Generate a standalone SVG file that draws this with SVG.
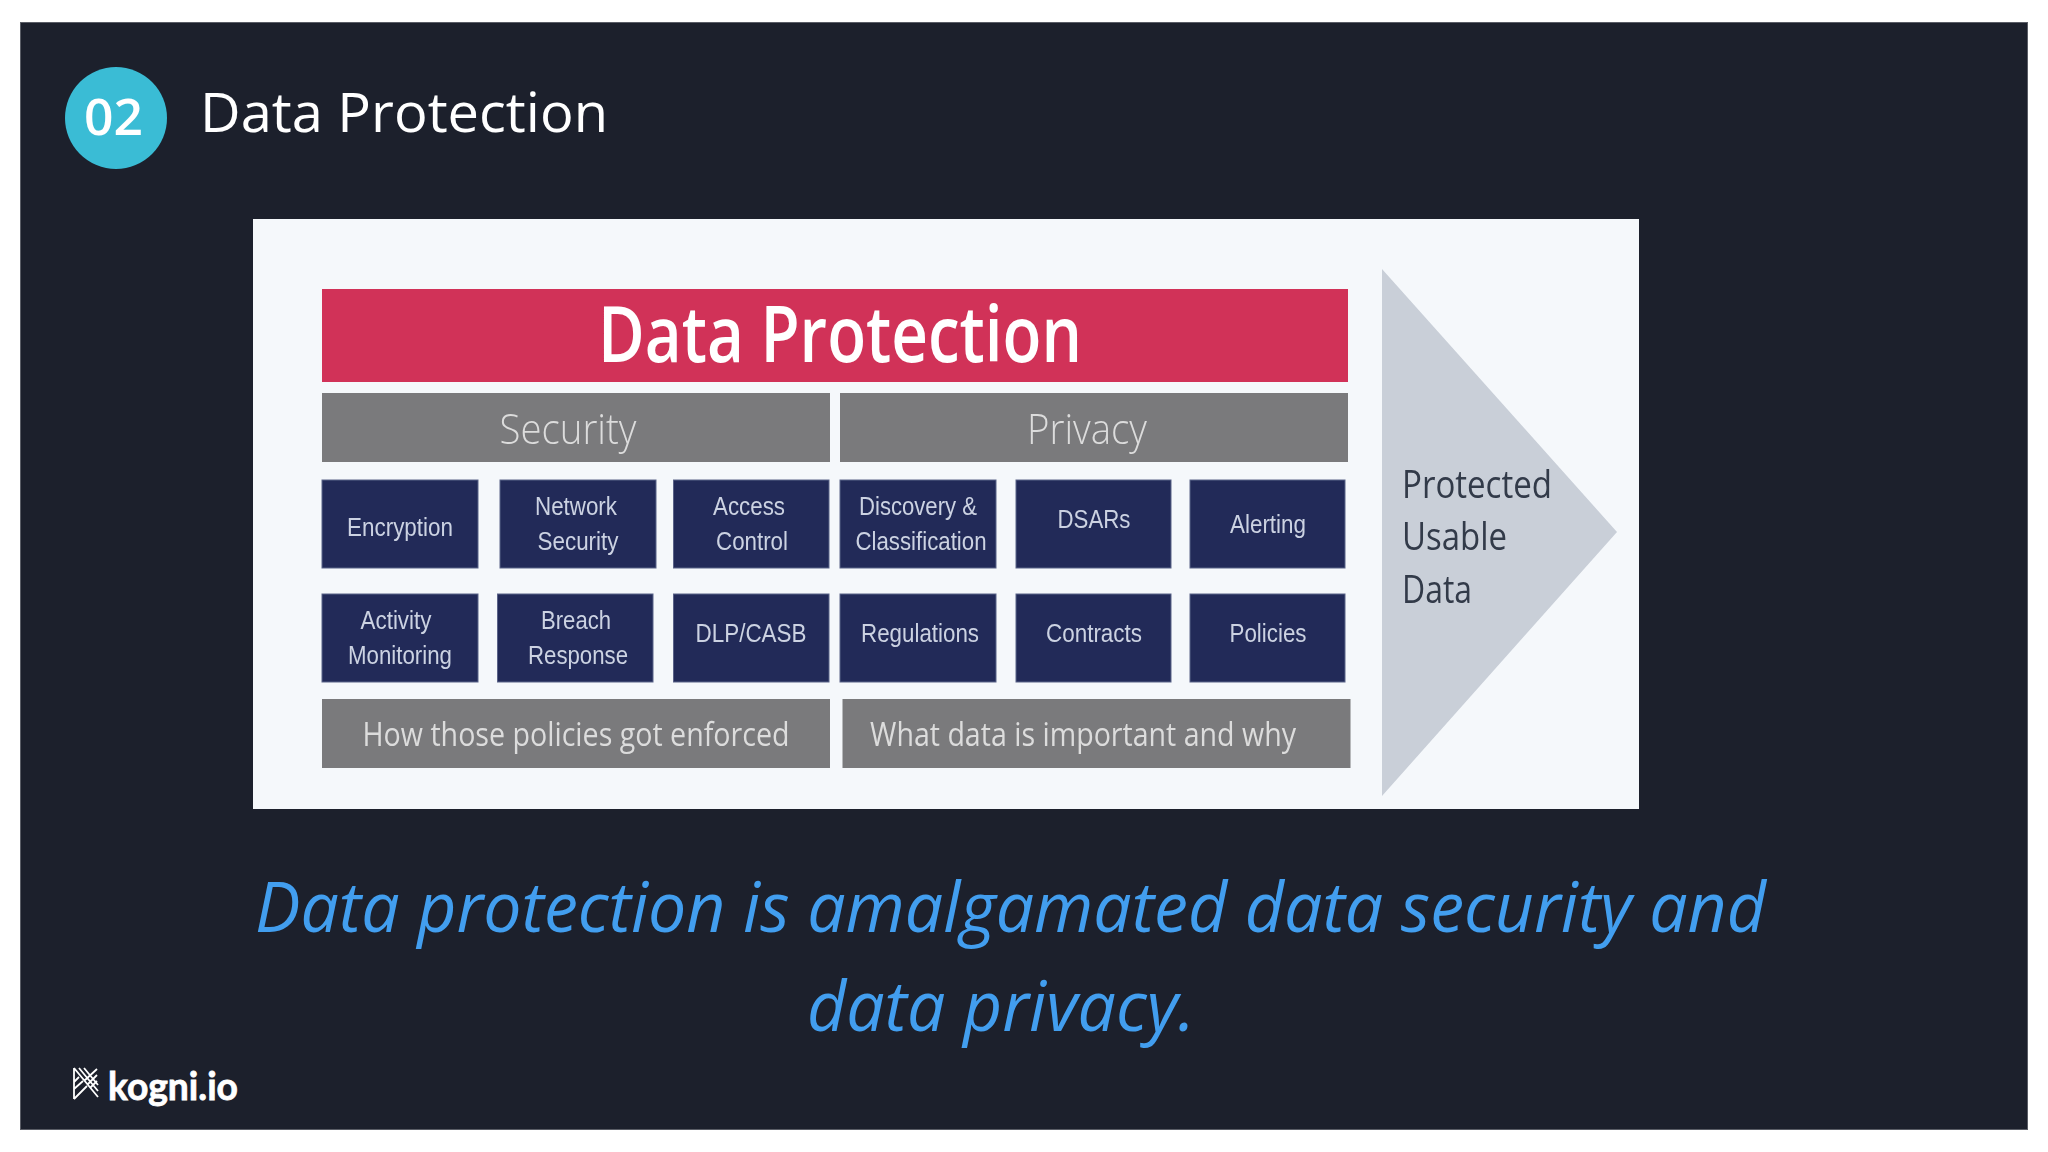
<svg xmlns="http://www.w3.org/2000/svg" width="2048" height="1152" viewBox="0 0 2048 1152">
<defs>
<filter id="soft" x="-2%" y="-2%" width="104%" height="104%"><feGaussianBlur stdDeviation="0.7"/></filter>
</defs>
<style>
.os{font-family:"Open Sans","Noto Sans",sans-serif}
.box{fill:#222c59;stroke:#5a6288;stroke-width:1}
.gray{fill:#7a7a7c}
.bt{font-family:"Liberation Sans",Arial,sans-serif;font-size:25px;fill:#ccd2e2;text-anchor:middle}
.gt{font-family:"Open Sans","Noto Sans",sans-serif;fill:#dcdcdc}
.side{font-family:"Open Sans","Noto Sans",sans-serif;font-size:38px;font-weight:500;fill:#333a4a}
.cap{font-family:"Open Sans","Noto Sans",sans-serif;font-style:italic;font-size:69px;fill:#429eef}
</style>
<rect width="2048" height="1152" fill="#ffffff"/>
<rect x="20.5" y="22.5" width="2007" height="1107" fill="#1c202c" stroke="#5a5d66" stroke-width="1"/>
<g id="badge">
<circle cx="116" cy="118" r="51" fill="#3abcd5"/>
<text x="113.500" y="135" class="os" font-size="50" font-weight="600" fill="#ffffff" text-anchor="middle" textLength="59" lengthAdjust="spacingAndGlyphs">02</text>
</g>
<text id="title" x="200" y="132" class="os" font-size="54" font-weight="500" fill="#ffffff" textLength="408" lengthAdjust="spacingAndGlyphs">Data Protection</text>
<rect x="253" y="219" width="1386" height="590" fill="#f5f8fb"/>
<g filter="url(#soft)">
<g id="banner">
<rect x="322" y="289" width="1026" height="93" fill="#d13358"/>
<text x="840" y="362" font-family="'Open Sans','Noto Sans',sans-serif" font-size="78" font-weight="600" fill="#ffffff" text-anchor="middle" textLength="484" lengthAdjust="spacingAndGlyphs">Data Protection</text>
</g>
<g id="security"><rect class="gray" x="322" y="393" width="508" height="69"/><text class="gt" x="568" y="444" font-size="43" font-weight="300" text-anchor="middle" textLength="137" lengthAdjust="spacingAndGlyphs">Security</text></g>
<g id="privacy"><rect class="gray" x="840" y="393" width="508" height="69"/><text class="gt" x="1087" y="444" font-size="43" font-weight="300" text-anchor="middle" textLength="120" lengthAdjust="spacingAndGlyphs">Privacy</text></g>
<g id="encryption"><rect class="box" x="322" y="480" width="156" height="88"/><text class="bt" x="400" y="536" textLength="106" lengthAdjust="spacingAndGlyphs">Encryption</text></g>
<g id="network-security"><rect class="box" x="500" y="480" width="156" height="88"/><text class="bt" x="576" y="515" textLength="82" lengthAdjust="spacingAndGlyphs">Network</text><text class="bt" x="578" y="550" textLength="81" lengthAdjust="spacingAndGlyphs">Security</text></g>
<g id="access-control"><rect class="box" x="673.500" y="480" width="155.500" height="88"/><text class="bt" x="749" y="515" textLength="72" lengthAdjust="spacingAndGlyphs">Access</text><text class="bt" x="752" y="550" textLength="72" lengthAdjust="spacingAndGlyphs">Control</text></g>
<g id="discovery"><rect class="box" x="840" y="480" width="156" height="88"/><text class="bt" x="918" y="515" textLength="118" lengthAdjust="spacingAndGlyphs">Discovery &amp;</text><text class="bt" x="921" y="550" textLength="131" lengthAdjust="spacingAndGlyphs">Classification</text></g>
<g id="dsars"><rect class="box" x="1016" y="480" width="155" height="88"/><text class="bt" x="1094" y="528" textLength="73" lengthAdjust="spacingAndGlyphs">DSARs</text></g>
<g id="alerting"><rect class="box" x="1190" y="480" width="155" height="88"/><text class="bt" x="1268" y="533" textLength="76" lengthAdjust="spacingAndGlyphs">Alerting</text></g>
<g id="activity-monitoring"><rect class="box" x="322" y="594" width="156" height="88"/><text class="bt" x="396" y="629" textLength="71" lengthAdjust="spacingAndGlyphs">Activity</text><text class="bt" x="400" y="664" textLength="104" lengthAdjust="spacingAndGlyphs">Monitoring</text></g>
<g id="breach-response"><rect class="box" x="497.500" y="594" width="155.500" height="88"/><text class="bt" x="576" y="629" textLength="70" lengthAdjust="spacingAndGlyphs">Breach</text><text class="bt" x="578" y="664" textLength="100" lengthAdjust="spacingAndGlyphs">Response</text></g>
<g id="dlp-casb"><rect class="box" x="673.500" y="594" width="155.500" height="88"/><text class="bt" x="751" y="642" textLength="111" lengthAdjust="spacingAndGlyphs">DLP/CASB</text></g>
<g id="regulations"><rect class="box" x="840" y="594" width="156" height="88"/><text class="bt" x="920" y="642" textLength="118" lengthAdjust="spacingAndGlyphs">Regulations</text></g>
<g id="contracts"><rect class="box" x="1016" y="594" width="155" height="88"/><text class="bt" x="1094" y="642" textLength="96" lengthAdjust="spacingAndGlyphs">Contracts</text></g>
<g id="policies"><rect class="box" x="1190" y="594" width="155" height="88"/><text class="bt" x="1268" y="642" textLength="77" lengthAdjust="spacingAndGlyphs">Policies</text></g>
<g id="how"><rect class="gray" x="322" y="699" width="508" height="69"/><text class="gt" x="576" y="746" font-size="33" text-anchor="middle" textLength="427" lengthAdjust="spacingAndGlyphs">How those policies got enforced</text></g>
<g id="what"><rect class="gray" x="842.500" y="699" width="508" height="69"/><text class="gt" x="1083" y="746" font-size="33" text-anchor="middle" textLength="426" lengthAdjust="spacingAndGlyphs">What data is important and why</text></g>
<g id="outcome">
<polygon points="1382,269 1617,532 1382,796" fill="#c9cfd8"/>
<text class="side" x="1402" y="498" textLength="150" lengthAdjust="spacingAndGlyphs">Protected</text>
<text class="side" x="1402" y="550" textLength="105" lengthAdjust="spacingAndGlyphs">Usable</text>
<text class="side" x="1402" y="603" textLength="70" lengthAdjust="spacingAndGlyphs">Data</text>
</g>
</g>
<text class="cap" x="1010.500" y="932" text-anchor="middle" textLength="1511" lengthAdjust="spacingAndGlyphs">Data protection is amalgamated data security and</text>
<text class="cap" x="1001" y="1031" text-anchor="middle" textLength="388" lengthAdjust="spacingAndGlyphs">data privacy.</text>
<g id="logo">
<g stroke="#ffffff" stroke-width="1.800" fill="none">
<path d="M74 1068V1099M74 1068L98 1097M79 1068L98 1091M84 1068L98 1085M97 1069L84 1081M97 1075L87 1085M97 1081L90 1088M74 1082L79 1077M74 1089L83 1081M74 1099L87 1086"/>
</g>
<text x="108" y="1100" font-family="Lato,'Open Sans',sans-serif" font-weight="700" font-size="39" fill="#ffffff" stroke="#ffffff" stroke-width="0.800" textLength="130" lengthAdjust="spacingAndGlyphs">kogni.io</text>
</g>
</svg>
